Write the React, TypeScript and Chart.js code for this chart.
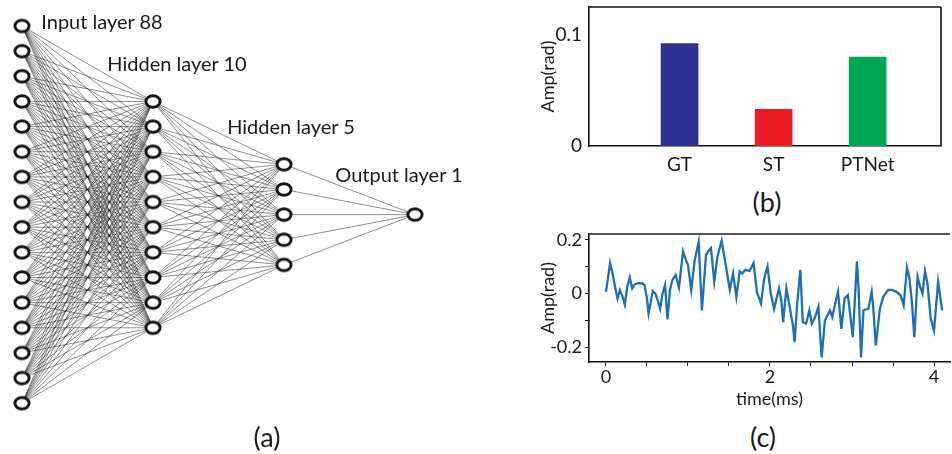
import React, { useEffect, useRef } from "react";
import { Chart, registerables } from "chart.js";

Chart.register(...registerables);

const FONT = "Lato, 'Open Sans', sans-serif";

// ---------- (a) network diagram data ----------
const layerNames = ["Input layer 88", "Hidden layer 10", "Hidden layer 5", "Output layer 1"];
const layerX = [0, 1, 2, 3];
const inputNodeY = [0, 1, 2, 3, 4, 5, 6, 7, 8, 9, 10, 11, 12, 13, 14, 15];
const hidden10NodeY = [3, 4, 5, 6, 7, 8, 9, 10, 11, 12];
const hidden5NodeY = [5.5, 6.5, 7.5, 8.5, 9.5];
const outputNodeY = [7.5];

// ---------- (b) bar chart data ----------
const methodLabels = ["GT", "ST", "PTNet"];
const methodAmp = [0.092, 0.033, 0.08];
const methodColors = ["#2e3192", "#ed1c24", "#00a651"];
const ampTicksB = [0, 0.1];

// ---------- (c) time series data ----------
const timeMs = [
  0.0, 0.05, 0.08, 0.11, 0.14, 0.17, 0.2, 0.23, 0.26, 0.29,
  0.32, 0.35, 0.39, 0.44, 0.47, 0.5, 0.52, 0.55, 0.57, 0.6,
  0.63, 0.66, 0.69, 0.72, 0.75, 0.78, 0.81, 0.85, 0.89, 0.94,
  0.98, 1.0, 1.04, 1.08, 1.13, 1.17, 1.22, 1.26, 1.28, 1.32,
  1.36, 1.41, 1.46, 1.51, 1.55, 1.59, 1.63, 1.66, 1.7, 1.75,
  1.8, 1.84, 1.89, 1.93, 1.97, 2.01, 2.05, 2.11, 2.14, 2.16,
  2.2, 2.24, 2.28, 2.3, 2.33, 2.37, 2.4, 2.44, 2.48, 2.51,
  2.55, 2.59, 2.63, 2.67, 2.7, 2.73, 2.76, 2.8, 2.83, 2.87,
  2.91, 2.95, 3.01, 3.06, 3.08, 3.11, 3.14, 3.17, 3.2, 3.24,
  3.26, 3.29, 3.34, 3.38, 3.44, 3.49, 3.54, 3.59, 3.63, 3.67,
  3.7, 3.73, 3.76, 3.8, 3.83, 3.86, 3.89, 3.92, 3.96, 4.0,
  4.05, 4.07, 4.1,
];
const ampRad = [
  0.006, 0.113, 0.075, 0.026, -0.019, 0.013, -0.01, -0.042, 0.026, 0.06,
  0.019, 0.034, 0.038, 0.038, 0.031, -0.019, -0.075, -0.025, 0.009, 0.0,
  -0.025, -0.057, 0.0, 0.031, -0.097, 0.013, 0.05, 0.069, 0.022, 0.157,
  0.12, 0.107, 0.013, 0.12, 0.192, -0.063, 0.145, 0.163, 0.17, 0.044,
  0.138, 0.197, 0.107, 0.013, 0.075, -0.013, 0.082, 0.075, 0.088, 0.084,
  0.113, 0.006, -0.038, 0.057, 0.101, 0.0, -0.057, 0.019, -0.031, -0.107,
  0.019, -0.05, -0.12, -0.182, -0.044, 0.088, -0.107, -0.113, -0.063, -0.113,
  -0.088, -0.05, -0.239, -0.101, -0.082, -0.063, -0.088, -0.031, 0.006, -0.132,
  -0.019, -0.006, -0.163, 0.12, 0.019, -0.239, -0.063, -0.06, -0.057, 0.006,
  -0.057, -0.195, -0.057, -0.013, 0.013, 0.013, 0.006, -0.006, -0.044, 0.097,
  0.057, -0.031, -0.163, 0.063, 0.025, 0.0, 0.084, 0.038, -0.094, -0.138,
  0.044, 0.0, -0.063,
];
const ampTicksC = [-0.2, -0.1, 0, 0.1, 0.2];
const ampLabelsC = ["-0.2", "", "0", "", "0.2"];
const timeTicks = [0, 0.5, 1, 1.5, 2, 2.5, 3, 3.5, 4];
const timeLabels = ["0", "", "", "", "2", "", "", "", "4"];

const framePlugin = (color: string, width: number, sides: string[]) => ({
  id: "frame",
  afterDatasetsDraw(chart: any) {
    const { ctx, chartArea } = chart;
    const { left, right, top, bottom } = chartArea;
    ctx.save();
    ctx.strokeStyle = color;
    ctx.lineWidth = width;
    ctx.beginPath();
    if (sides.includes("top")) { ctx.moveTo(left, top); ctx.lineTo(right, top); }
    if (sides.includes("right")) { ctx.moveTo(right, top); ctx.lineTo(right, bottom); }
    ctx.stroke();
    ctx.restore();
  },
});

function Label({ x, y, size, text }: { x: number; y: number; size: number; text: string }) {
  return (
    <div
      style={{
        position: "absolute",
        left: x,
        top: y,
        transform: "translate(-50%, -50%)",
        fontFamily: FONT,
        fontSize: size,
        lineHeight: 1,
        whiteSpace: "nowrap",
        color: "#1a1a1a",
      }}
    >
      {text}
    </div>
  );
}

export default function App() {
  const netRef = useRef<HTMLCanvasElement>(null);
  const barRef = useRef<HTMLCanvasElement>(null);
  const lineRef = useRef<HTMLCanvasElement>(null);

  useEffect(() => {
    // ---------- (a) network ----------
    const layers = [inputNodeY, hidden10NodeY, hidden5NodeY, outputNodeY];
    const nodeImg = document.createElement("canvas");
    nodeImg.width = 20;
    nodeImg.height = 17;
    const nctx = nodeImg.getContext("2d")!;
    nctx.fillStyle = "#ffffff";
    nctx.strokeStyle = "#151515";
    nctx.lineWidth = 2.9;
    nctx.beginPath();
    nctx.ellipse(10, 8.5, 7.1, 5.8, 0, 0, Math.PI * 2);
    nctx.fill();
    nctx.stroke();

    const nodes = layers.flatMap((ys, i) => ys.map((y) => ({ x: layerX[i], y })));
    const edges: any[] = [];
    for (let i = 0; i < layers.length - 1; i++) {
      for (const a of layers[i]) {
        for (const b of layers[i + 1]) {
          edges.push({
            data: [
              { x: layerX[i], y: a },
              { x: layerX[i + 1], y: b },
            ],
            showLine: true,
            borderColor: "rgba(20,20,20,0.6)",
            borderWidth: 0.8,
            pointRadius: 0,
            order: 2,
          });
        }
      }
    }
    const net = new Chart(netRef.current!, {
      type: "scatter",
      data: {
        datasets: [
          { data: nodes, pointStyle: nodeImg as any, pointRadius: 8, order: 0 } as any,
          ...edges,
        ],
      },
      options: {
        animation: false,
        responsive: false,
        events: [],
        plugins: { legend: { display: false }, tooltip: { enabled: false } },
        layout: { padding: 0, autoPadding: false } as any,
        scales: {
          x: { type: "linear", display: false, min: -22 / 131, max: (450 - 22) / 131 },
          y: { type: "linear", display: false, reverse: true, min: -26 / 25.15, max: (420 - 26) / 25.15 },
        },
      },
    });

    // ---------- (b) bars ----------
    const tickFontB = { family: FONT, size: 19 };
    const bar = new Chart(barRef.current!, {
      type: "bar",
      data: {
        datasets: [
          {
            data: methodAmp.map((v, i) => ({ x: i + 1, y: v })) as any,
            backgroundColor: methodColors,
            barThickness: 37,
          },
        ],
      },
      options: {
        animation: false,
        responsive: false,
        events: [],
        plugins: { legend: { display: false }, tooltip: { enabled: false } },
        layout: { padding: { top: 7, right: 11, left: 0, bottom: 0 }, autoPadding: false } as any,
        scales: {
          x: {
            type: "linear",
            offset: false,
            min: 0.037,
            max: 3.78,
            grid: { display: false, drawTicks: false },
            border: { display: true, color: "#111", width: 1.6 },
            afterBuildTicks: (s: any) => {
              s.ticks = methodLabels.map((_, i) => ({ value: i + 1 }));
            },
            ticks: {
              autoSkip: false,
              maxRotation: 0,
              padding: 7,
              color: "#1a1a1a",
              font: tickFontB,
              callback: (v: any) => methodLabels[Math.round(v) - 1] ?? "",
            },
            afterFit: (s: any) => {
              s.height = 34;
              s.paddingLeft = 0;
              s.paddingRight = 0;
            },
          },
          y: {
            min: 0,
            max: 0.125,
            grid: { display: false, drawTicks: false },
            border: { display: true, color: "#111", width: 1.6 },
            afterBuildTicks: (s: any) => {
              s.ticks = ampTicksB.map((v) => ({ value: v }));
            },
            ticks: {
              padding: 7,
              color: "#1a1a1a",
              font: tickFontB,
              callback: (v: any) => String(v),
            },
            title: {
              display: true,
              text: "Amp(rad)",
              color: "#1a1a1a",
              font: { family: FONT, size: 18 },
              padding: { top: 3, bottom: 0 },
            },
            afterFit: (s: any) => {
              s.width = 55;
              s.paddingTop = 0;
              s.paddingBottom = 0;
            },
          },
        },
      },
      plugins: [framePlugin("#111", 1.6, ["top", "right"])],
    });

    // ---------- (c) line ----------
    const tickFontC = { family: FONT, size: 18 };
    const line = new Chart(lineRef.current!, {
      type: "line",
      data: {
        datasets: [
          {
            data: timeMs.map((t, i) => ({ x: t, y: ampRad[i] })),
            borderColor: "#1f6fb5",
            borderWidth: 2.3,
            pointRadius: 0,
            tension: 0,
          },
        ],
      },
      options: {
        animation: false,
        responsive: false,
        events: [],
        plugins: { legend: { display: false }, tooltip: { enabled: false } },
        layout: { padding: { top: 9, right: 2, left: 0, bottom: 0 }, autoPadding: false } as any,
        scales: {
          x: {
            type: "linear",
            min: -0.207,
            max: 4.195,
            grid: { display: true, drawOnChartArea: false, drawTicks: true, tickLength: 4, color: "#111", lineWidth: 1 },
            border: { display: true, color: "#111", width: 1.6 },
            afterBuildTicks: (s: any) => {
              s.ticks = timeTicks.map((v) => ({ value: v }));
            },
            ticks: {
              autoSkip: false,
              maxRotation: 0,
              padding: 0,
              color: "#1a1a1a",
              font: tickFontC,
              callback: (_v: any, i: number) => timeLabels[i],
            },
            title: {
              display: true,
              text: "time(ms)",
              color: "#1a1a1a",
              font: { family: FONT, size: 18 },
              padding: { top: 0, bottom: 0 },
            },
            afterFit: (s: any) => {
              s.height = 48;
              s.paddingLeft = 0;
              s.paddingRight = 0;
            },
          },
          y: {
            min: -0.256,
            max: 0.222,
            grid: { display: true, drawOnChartArea: false, drawTicks: true, tickLength: 4, color: "#111", lineWidth: 1 },
            border: { display: true, color: "#111", width: 1.6 },
            afterBuildTicks: (s: any) => {
              s.ticks = ampTicksC.map((v) => ({ value: v }));
            },
            ticks: {
              padding: 3,
              color: "#1a1a1a",
              font: tickFontC,
              callback: (_v: any, i: number) => ampLabelsC[i],
            },
            title: {
              display: true,
              text: "Amp(rad)",
              color: "#1a1a1a",
              font: { family: FONT, size: 18 },
              padding: { top: 3, bottom: 0 },
            },
            afterFit: (s: any) => {
              s.width = 55;
              s.paddingTop = 0;
              s.paddingBottom = 0;
            },
          },
        },
      },
      plugins: [framePlugin("#555", 2, ["top"])],
    });

    return () => {
      net.destroy();
      bar.destroy();
      line.destroy();
    };
  }, []);

  return (
    <div
      style={{
        position: "absolute",
        left: 0,
        top: 0,
        width: 952,
        height: 454,
        background: "#ffffff",
        overflow: "hidden",
      }}
    >
      <canvas ref={netRef} width={450} height={420} style={{ position: "absolute", left: 0, top: 0 }} />
      <canvas ref={barRef} width={418} height={180} style={{ position: "absolute", left: 534, top: 0 }} />
      <canvas ref={lineRef} width={418} height={185} style={{ position: "absolute", left: 534, top: 225 }} />
      <Label x={102} y={21} size={20} text={layerNames[0]} />
      <Label x={177} y={63} size={20} text={layerNames[1]} />
      <Label x={291} y={126} size={20} text={layerNames[2]} />
      <Label x={399} y={174} size={20} text={layerNames[3]} />
      <Label x={267} y={436} size={27} text="(a)" />
      <Label x={767} y={201} size={27} text="(b)" />
      <Label x={763} y={436} size={27} text="(c)" />
    </div>
  );
}
